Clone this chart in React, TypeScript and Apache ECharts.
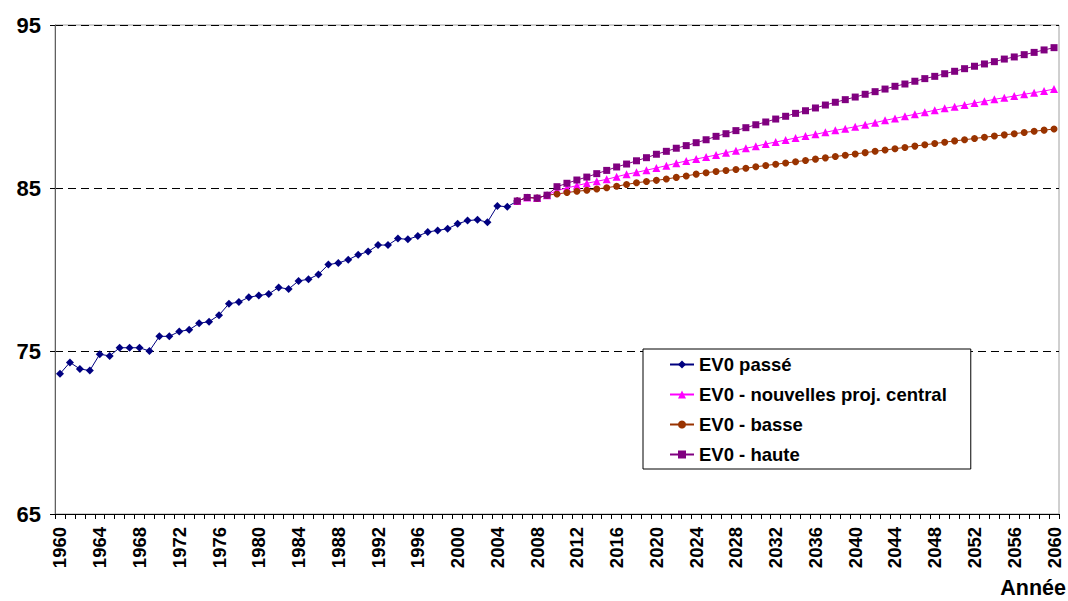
import React, { useEffect, useRef } from "react";
import * as echarts from "echarts";

const years: string[] = [
  "1960","1961","1962","1963","1964","1965","1966","1967","1968","1969",
  "1970","1971","1972","1973","1974","1975","1976","1977","1978","1979",
  "1980","1981","1982","1983","1984","1985","1986","1987","1988","1989",
  "1990","1991","1992","1993","1994","1995","1996","1997","1998","1999",
  "2000","2001","2002","2003","2004","2005","2006","2007","2008","2009",
  "2010","2011","2012","2013","2014","2015","2016","2017","2018","2019",
  "2020","2021","2022","2023","2024","2025","2026","2027","2028","2029",
  "2030","2031","2032","2033","2034","2035","2036","2037","2038","2039",
  "2040","2041","2042","2043","2044","2045","2046","2047","2048","2049",
  "2050","2051","2052","2053","2054","2055","2056","2057","2058","2059",
  "2060",
];

// 1960 - 2006
const passe: number[] = [
  73.6, 74.3, 73.9, 73.8, 74.8, 74.7, 75.2, 75.2, 75.2, 75.0,
  75.9, 75.9, 76.2, 76.3, 76.7, 76.8, 77.2, 77.9, 78.0, 78.3,
  78.4, 78.5, 78.9, 78.8, 79.3, 79.4, 79.7, 80.3, 80.4, 80.6,
  80.9, 81.1, 81.5, 81.5, 81.9, 81.85, 82.05, 82.3, 82.4, 82.5,
  82.8, 83.0, 83.05, 82.9, 83.9, 83.85, 84.2,
];

// 2006 - 2060
const central: number[] = [
  84.2, 84.42, 84.38, 84.56,
  84.85, 85.0, 85.15, 85.29, 85.41, 85.53, 85.69, 85.84, 85.96, 86.09,
  86.23, 86.37, 86.52, 86.66, 86.78,
  86.9, 87.02, 87.17, 87.29, 87.44, 87.56, 87.7, 87.82, 87.94, 88.07,
  88.19, 88.29, 88.42, 88.54, 88.64, 88.76, 88.88, 89.01,
  89.15, 89.27, 89.4, 89.52, 89.64, 89.77, 89.89, 89.99, 90.09, 90.21,
  90.32, 90.44, 90.54, 90.64, 90.75, 90.85, 90.95, 91.07,
];

const basse: number[] = [
  84.2, 84.42, 84.38, 84.56,
  84.63, 84.72, 84.8, 84.86, 84.94, 85.02, 85.11, 85.22, 85.32, 85.4,
  85.47, 85.55, 85.65, 85.74, 85.85,
  85.94, 86.01, 86.07, 86.13, 86.21, 86.3, 86.38, 86.46, 86.53, 86.61,
  86.69, 86.77, 86.85, 86.93, 87.01, 87.09, 87.17, 87.25,
  87.33, 87.41, 87.49, 87.57, 87.65, 87.73, 87.81, 87.89, 87.96, 88.04,
  88.11, 88.19, 88.26, 88.33, 88.41, 88.48, 88.55, 88.62,
];

const haute: number[] = [
  84.2, 84.42, 84.38, 84.56,
  85.08, 85.29, 85.49, 85.67, 85.88, 86.08, 86.29, 86.47, 86.67, 86.86,
  87.07, 87.25, 87.44, 87.6, 87.78,
  87.96, 88.17, 88.33, 88.52, 88.7, 88.88, 89.05, 89.23, 89.4, 89.58,
  89.74, 89.91, 90.09, 90.26, 90.42, 90.58, 90.75, 90.91,
  91.07, 91.24, 91.38, 91.55, 91.71, 91.85, 92.01, 92.16, 92.32, 92.47,
  92.61, 92.75, 92.91, 93.04, 93.18, 93.32, 93.47, 93.61,
];

const seriesNames = [
  "EV0 passé",
  "EV0 - nouvelles proj. central",
  "EV0 - basse",
  "EV0 - haute",
];

const yTicks = { min: 65, max: 95, interval: 10 };
const axisTitle = "Année";

const FONT = 'Arial, "Liberation Sans", sans-serif';

function padFront(values: number[], startYear: string): (number | null)[] {
  const idx = years.indexOf(startYear);
  const out: (number | null)[] = [];
  for (let i = 0; i < years.length; i++) {
    const j = i - idx;
    out.push(j >= 0 && j < values.length ? values[j] : null);
  }
  return out;
}

export default function App() {
  const ref = useRef<HTMLDivElement>(null);

  useEffect(() => {
    if (!ref.current) return;
    const chart = echarts.init(ref.current, null, { renderer: "svg" });

    const mk = (
      name: string,
      data: (number | null)[],
      color: string,
      symbol: string,
      size: number
    ) => ({
      name,
      type: "line",
      data,
      symbol,
      symbolSize: size,
      showAllSymbol: true,
      connectNulls: false,
      lineStyle: { color, width: 1 },
      itemStyle: { color },
      emphasis: { disabled: true },
    });

    chart.setOption({
      animation: false,
      backgroundColor: "#ffffff",
      grid: {
        left: 55,
        right: 9,
        top: 25,
        bottom: 87,
        show: true,
        borderColor: "#a0a0a0",
        borderWidth: 1,
        backgroundColor: "transparent",
      },
      legend: {
        orient: "vertical",
        left: 643,
        top: 349,
        padding: [6, 24, 5, 26],
        itemGap: 11,
        itemWidth: 24,
        itemHeight: 10,
        borderColor: "#000000",
        borderWidth: 1,
        backgroundColor: "#ffffff",
        textStyle: {
          fontFamily: FONT,
          fontWeight: "bold",
          fontSize: 18.5,
          color: "#000000",
          lineHeight: 18,
        },
        data: seriesNames,
      },
      xAxis: {
        type: "category",
        data: years,
        boundaryGap: true,
        axisLine: { lineStyle: { color: "#000000", width: 1 } },
        axisTick: {
          show: true,
          interval: 0,
          length: 5,
          lineStyle: { color: "#000000" },
        },
        axisLabel: {
          interval: 3,
          rotate: 90,
          margin: 13,
          fontFamily: FONT,
          fontWeight: "bold",
          fontSize: 18.5,
          color: "#000000",
        },
        splitLine: { show: false },
      },
      yAxis: {
        type: "value",
        min: yTicks.min,
        max: yTicks.max,
        interval: yTicks.interval,
        axisLine: { show: true, lineStyle: { color: "#606060", width: 1 } },
        axisTick: { show: true, length: 5, lineStyle: { color: "#000000" } },
        axisLabel: {
          margin: 14,
          fontFamily: FONT,
          fontWeight: "bold",
          fontSize: 22,
          color: "#000000",
        },
        splitLine: {
          show: true,
          lineStyle: { color: "#000000", type: [8, 5], width: 1 },
        },
      },
      graphic: [
        {
          type: "text",
          right: 2,
          top: 577,
          style: {
            text: axisTitle,
            fontFamily: FONT,
            fontWeight: "bold",
            fontSize: 21.5,
            fill: "#000000",
          },
        },
      ],
      series: [
        mk(seriesNames[0], padFront(passe, "1960"), "#000080", "diamond", 8),
        mk(seriesNames[1], padFront(central, "2006"), "#ff00ff", "triangle", 8),
        mk(seriesNames[2], padFront(basse, "2006"), "#993300", "circle", 7),
        mk(seriesNames[3], padFront(haute, "2006"), "#800080", "rect", 7),
      ],
    });

    return () => chart.dispose();
  }, []);

  return (
    <div
      ref={ref}
      style={{
        position: "absolute",
        left: 0,
        top: 0,
        width: 1068,
        height: 601,
      }}
    />
  );
}
